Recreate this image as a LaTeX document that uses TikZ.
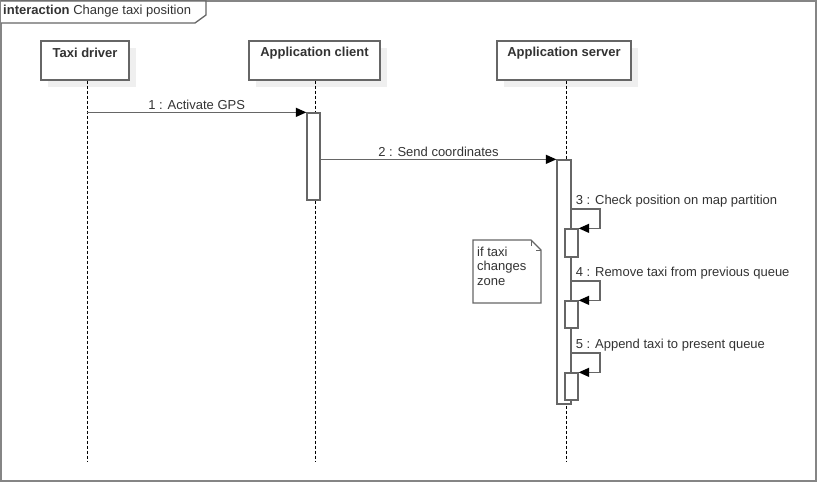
\documentclass[tikz,border=0pt]{standalone}
\usepackage{fontspec}
\setmainfont{Liberation Sans}
\usetikzlibrary{arrows.meta,shadows}

\definecolor{linegray}{HTML}{666666}
\definecolor{framegray}{HTML}{858585}
\definecolor{textgray}{HTML}{333333}
\definecolor{shadowgray}{HTML}{EFEFEF}

\begin{document}
\begin{tikzpicture}[x=1pt, y=-1pt,
	font=\fontsize{13}{14.5}\selectfont, text=textgray,
	lifebox/.style={draw=linegray, line width=1.3pt, fill=white, inner sep=0pt, minimum height=39pt,
		drop shadow={shadow xshift=7pt, shadow yshift=-7pt, fill=shadowgray, opacity=1}},
	boxtitle/.style={font=\fontsize{13}{14.5}\selectfont\bfseries},
	lifeline/.style={black, dash pattern=on 3pt off 2pt, line width=0.9pt},
	activation/.style={draw=linegray, line width=1.3pt, fill=white, inner sep=0pt, minimum width=13pt},
	msg/.style={draw=linegray, line width=1.3pt, -{Triangle[length=10.5pt, width=9pt, black]}},
	msgtext/.style={inner sep=2pt},
]
	\useasboundingbox (0,0) rectangle (818,482);

	% frame, heading
	\draw[framegray, line width=2pt] (1,1) rectangle (816,480.5);
	\draw[linegray, line width=1.3pt, fill=white] (1,1) -- (206,1) -- (206,15) -- (195,23) -- (1,23);
	\node[anchor=west, inner sep=2pt] (title) at (1,11.5) {\textbf{interaction} Change taxi position};

	% lifeline heads
	\node[lifebox, minimum width=88pt] (driver) at (85,60.5) {};
	\node[lifebox, minimum width=131pt] (client) at (314.5,60.5) {};
	\node[lifebox, minimum width=134pt] (server) at (564,60.5) {};
	\node[boxtitle] (drivertitle) at ([yshift=-13pt]driver.north) {Taxi driver};
	\node[boxtitle] (clienttitle) at ([yshift=-13pt]client.north) {Application client};
	\node[boxtitle] (servertitle) at ([yshift=-13pt]server.north) {Application server};

	% lifelines
	\coordinate (driverend) at (87,462);
	\coordinate (clientend) at (315,462);
	\coordinate (serverend) at (566,462);
	\draw[lifeline] (driverend |- driver.south) -- (driverend);
	\draw[lifeline] (clientend |- client.south) -- (clientend);
	\draw[lifeline] (serverend |- server.south) -- (serverend);

	% activations
	\node[activation, minimum height=87pt] (clientact) at (313.5,156.5) {};
	\node[activation, minimum width=14pt, minimum height=244pt] (serveract) at (564,282) {};
	\node[activation, minimum height=28pt] (checkact) at (571.5,243) {};
	\node[activation, minimum height=27pt] (removeact) at (571.5,314.5) {};
	\node[activation, minimum height=27pt] (appendact) at (571.5,386.5) {};

	% messages 1, 2
	\draw[msg] (driverend |- clientact.north) -- (clientact.north west)
		node[msgtext, midway, above] (m1) {1 : Activate GPS};
	\draw[msg] (clientact.east |- serveract.north) -- (serveract.north west)
		node[msgtext, midway, above] (m2) {2 : Send coordinates};

	% self messages 3, 4, 5
	\coordinate (loop3) at (600,209);
	\coordinate (loop4) at (600,281);
	\coordinate (loop5) at (600,353);
	\draw[msg] (serveract.east |- loop3) -- (loop3) |- (checkact.north east);
	\draw[msg] (serveract.east |- loop4) -- (loop4) |- (removeact.north east);
	\draw[msg] (serveract.east |- loop5) -- (loop5) |- (appendact.north east);
	\node[msgtext, anchor=south west] (m3) at ([xshift=2pt]serveract.east |- loop3) {3 : Check position on map partition};
	\node[msgtext, anchor=south west] (m4) at ([xshift=2pt]serveract.east |- loop4) {4 : Remove taxi from previous queue};
	\node[msgtext, anchor=south west] (m5) at ([xshift=2pt]serveract.east |- loop5) {5 : Append taxi to present queue};

	% note
	\draw[linegray, line width=1.3pt, fill=white] (473,240) -- (531,240) -- (541,250) -- (541,303) -- (473,303) -- cycle;
	\draw[linegray, line width=0.6pt] (531,240) -- (531,246) (536,250) -- (541,250);
	\node[anchor=north west, align=left, inner sep=0pt] (note) at (477,246.5) {if taxi\\changes\\zone};
\end{tikzpicture}
\end{document}
